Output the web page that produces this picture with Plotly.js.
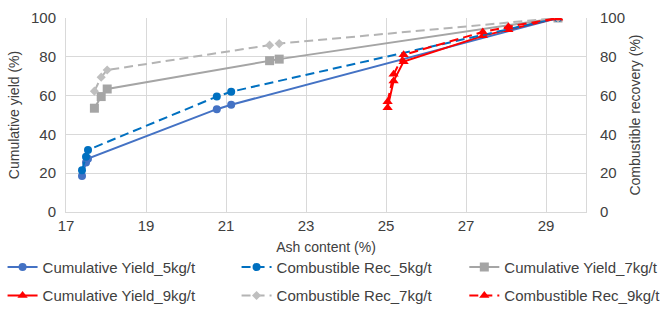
<!DOCTYPE html>
<html>
<head>
<meta charset="utf-8">
<script src="https://cdn.plot.ly/plotly-3.0.1.min.js"></script>
<style>html,body{margin:0;padding:0;background:#fff;}#chart{width:664px;height:327px;}</style>
</head>
<body>
<div id="chart"></div>
<script>
// Ash content (%) and cumulative yield / combustible recovery (%)
const ash5 = [17.40, 17.50, 17.55, 20.77, 21.13, 29.30];
const yield5 = [18.5, 25.5, 27.5, 53.0, 55.3, 100];
const rec5 = [21.5, 28.5, 32.0, 59.5, 62.0, 100];

const ash7 = [17.71, 17.88, 18.03, 22.09, 22.33, 29.30];
const yield7 = [53.5, 59.5, 63.4, 78.0, 78.8, 100];
const rec7 = [62.3, 69.5, 73.2, 86.0, 86.8, 100];

const ash9 = [25.04, 25.19, 25.44, 27.42, 28.06, 29.30];
const yield9 = [53.8, 67.5, 77.5, 90.8, 94.0, 100];
const rec9 = [56.8, 71.0, 81.0, 92.8, 95.5, 100];

const seriesNames = [
  'Cumulative Yield_5kg/t', 'Combustible Rec_5kg/t', 'Cumulative Yield_7kg/t',
  'Cumulative Yield_9kg/t', 'Combustible Rec_7kg/t', 'Combustible Rec_9kg/t'
];
const xTicks = [17, 19, 21, 23, 25, 27, 29];

const dash = '9px,5px';
const traces = [
  {x: ash5, y: yield5, name: seriesNames[0], yaxis: 'y', legend: 'legend',
   line: {color: '#4472C4', width: 2}, marker: {symbol: 'circle', size: 8, color: '#4472C4'}},
  {x: ash5, y: rec5, name: seriesNames[1], yaxis: 'y2', legend: 'legend2',
   line: {color: '#0070C0', width: 2, dash: dash}, marker: {symbol: 'circle', size: 8, color: '#0070C0'}},
  {x: ash7, y: yield7, name: seriesNames[2], yaxis: 'y', legend: 'legend3',
   line: {color: '#A5A5A5', width: 2}, marker: {symbol: 'square', size: 9, color: '#A5A5A5'}},
  {x: ash9, y: yield9, name: seriesNames[3], yaxis: 'y', legend: 'legend',
   line: {color: '#FF0000', width: 2}, marker: {symbol: 'triangle-up', size: 9, color: '#FF0000'}},
  {x: ash7, y: rec7, name: seriesNames[4], yaxis: 'y2', legend: 'legend2',
   line: {color: '#B4B4B4', width: 2, dash: dash}, marker: {symbol: 'diamond', size: 7, color: '#BFBFBF'}},
  {x: ash9, y: rec9, name: seriesNames[5], yaxis: 'y2', legend: 'legend3',
   line: {color: '#FF0000', width: 2, dash: dash}, marker: {symbol: 'triangle-up', size: 9, color: '#FF0000'}}
].map((t, i) => Object.assign({type: 'scatter', mode: 'lines+markers', legendgroup: 'g' + i}, t));

const txt = '#404040';
const font = {family: 'Liberation Sans, Arial, sans-serif', size: 14, color: txt};

function leg(xp) {
  return {
    orientation: 'v', x: xp, xanchor: 'left', y: -0.20, yanchor: 'top',
    font: {size: 15, color: txt}, tracegroupgap: 6, itemsizing: 'trace',
    bgcolor: 'rgba(0,0,0,0)', borderwidth: 0
  };
}

const layout = {
  width: 664, height: 327,
  margin: {l: 66, r: 78, t: 18, b: 115, autoexpand: false},
  paper_bgcolor: '#fff', plot_bgcolor: '#fff',
  font: font,
  showlegend: true,
  xaxis: {
    range: [17, 30], tickvals: xTicks, ticktext: xTicks.map(String),
    showgrid: true, gridcolor: '#D9D9D9', gridwidth: 1,
    showline: true, linecolor: '#D9D9D9', linewidth: 1,
    zeroline: false, ticks: '', ticklen: 0,
    tickfont: {size: 15, color: txt},
    title: {text: 'Ash content (%)', font: {size: 14, color: txt}, standoff: 9}
  },
  yaxis: {
    range: [0, 100], dtick: 20,
    showgrid: true, gridcolor: '#D9D9D9', gridwidth: 1,
    showline: true, linecolor: '#D9D9D9', linewidth: 1,
    zeroline: false, ticks: '', ticklabelstandoff: 6,
    tickfont: {size: 15, color: txt},
    title: {text: 'Cumulative yield (%)', font: {size: 14, color: txt}, standoff: 8}
  },
  yaxis2: {
    range: [0, 100], dtick: 20, overlaying: 'y', side: 'right',
    showgrid: false, showline: true, linecolor: '#D9D9D9', linewidth: 1,
    zeroline: false, ticks: '', ticklabelstandoff: 10,
    tickfont: {size: 15, color: txt},
    title: {text: 'Combustible recovery (%)', font: {size: 14, color: txt}, standoff: 6}
  },
  legend: leg(-0.122),
  legend2: leg(0.328),
  legend3: leg(0.766)
};

Plotly.newPlot('chart', traces, layout, {displayModeBar: false, staticPlot: true});
</script>
</body>
</html>
